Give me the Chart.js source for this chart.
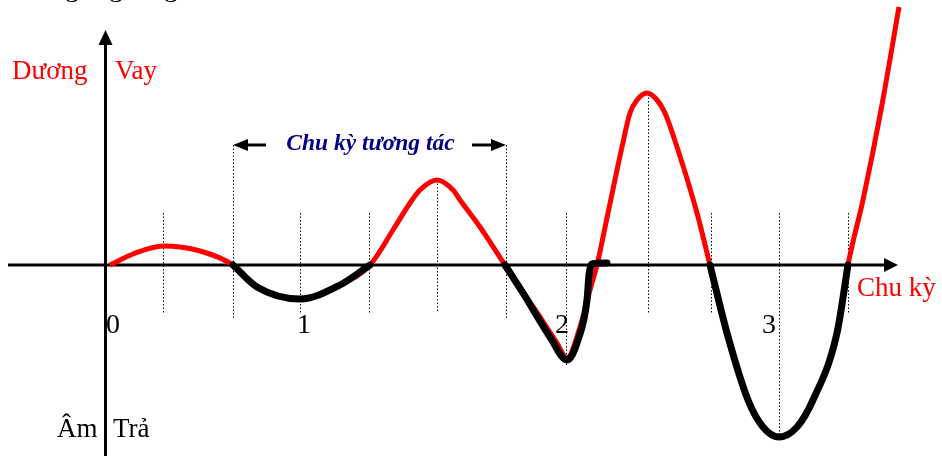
<!DOCTYPE html>
<html>
<head>
<meta charset="utf-8">
<script src="https://cdn.jsdelivr.net/npm/chart.js@4"></script>
<style>
  html, body { margin: 0; padding: 0; background: #fff; }
  canvas { display: block; }
</style>
</head>
<body>
<canvas id="chuKyChart" width="942" height="456"></canvas>
<script>
// Đường dòng tiền theo thời gian (trục hoành) - giá trị dương = vay, âm = trả
const thoiGian = [0, 2.3, 5.3, 9.0, 12.3, 14.7, 19.0, 23.0, 26.0,
  28.3, 30.0, 31.0, 32.7, 34.3, 35.0, 37.0, 39.5,
  43.0, 44.7, 45.7, 47.0, 48.0, 48.7,
  49.8, 51.2, 52.0, 52.7, 53.7, 54.7, 55.5, 56.7, 58.7, 60.0,
  61.7, 63.8, 65.3, 66.9, 68.7, 70.3, 72.7, 73.8, 75.3, 77.1, 78.9];
const dongTien = [0, 1.1, 1.9, 1.4, 0, -2.2, -3.4, -2.0, 0,
  3.5, 6.2, 7.5, 8.5, 7.5, 6.5, 3.8, 0,
  -5.2, -7.8, -9.3, -6.2, -2.5, 0,
  5.2, 11.8, 15.2, 16.5, 17.2, 16.5, 15.2, 11.8, 5.2, 0,
  -6.8, -13.5, -16.2, -17.2, -16.2, -13.5, -6.8, 0, 6.5, 15.5, 25.8];

// Các đoạn trả nợ (tô đen)
const traX1 = [12.3, 14.7, 19.0, 23.0, 26.0];
const traY1 = [0, -2.2, -3.4, -2.0, 0];
const traX2 = [39.5, 41.3, 44.0, 45.7, 46.8, 47.7, 47.9, 48.2, 49.7];
const traY2 = [0, -2.8, -7.2, -9.5, -7.5, -3.5, -1.0, 0.1, 0.2];
const traX3 = [60.0, 61.7, 63.8, 65.3, 66.9, 68.7, 70.3, 72.7, 73.8];
const traY3 = [0, -6.8, -13.5, -16.2, -17.2, -16.2, -13.5, -6.8, 0];

// Nhãn chu kỳ trên trục hoành
const nhanChuKy = ["0", "1", "2", "3"];
const viTriChuKy = [0.3, 19.4, 45.2, 65.9];

const toPoints = (xs, ys) => xs.map((x, i) => ({ x: x, y: ys[i] }));

const SERIF = "'Liberation Serif', 'Times New Roman', serif";

// Vẽ trục có mũi tên, các đường chấm và chữ chú thích
const trucPlugin = {
  id: "trucPlugin",
  beforeDraw(chart) {
    const c = chart.ctx;
    c.save();
    c.fillStyle = "#fff";
    c.fillRect(0, 0, chart.width, chart.height);
    c.restore();
  },
  beforeDatasetsDraw(chart) {
    const c = chart.ctx;
    const xs = chart.scales.x, ys = chart.scales.y;
    const X = v => xs.getPixelForValue(v);
    const Y = v => ys.getPixelForValue(v);

    // đường chấm dọc
    const guides = [
      [5.3, 5.2, -4.8], [12.3, 12.0, -5.3], [19.0, 5.2, -4.8], [25.9, 5.2, -4.8],
      [32.7, 8.5, -4.8], [39.6, 12.0, -5.3], [45.6, 5.2, -10.2], [53.8, 17.1, -4.8],
      [60.1, 5.2, -4.8], [66.9, 5.2, -17.2], [73.8, 5.2, -4.8]
    ];
    c.save();
    c.strokeStyle = "#000";
    c.lineWidth = 1;
    c.setLineDash([1.5, 2]);
    guides.forEach(g => {
      const px = Math.round(X(g[0])) + 0.5;
      c.beginPath();
      c.moveTo(px, Y(g[1]));
      c.lineTo(px, Y(g[2]));
      c.stroke();
    });
    c.restore();

    // trục hoành và trục tung
    c.save();
    c.strokeStyle = "#000";
    c.fillStyle = "#000";
    c.lineWidth = 3;
    const y0 = Y(0), x0 = X(-0.45);
    c.beginPath();
    c.moveTo(8, y0);
    c.lineTo(X(77.5), y0);
    c.stroke();
    c.beginPath();
    c.moveTo(X(78.8), y0);
    c.lineTo(X(77.4), y0 - 7);
    c.lineTo(X(77.4), y0 + 7);
    c.closePath();
    c.fill();

    c.beginPath();
    c.moveTo(x0, chart.height);
    c.lineTo(x0, Y(22.3));
    c.stroke();
    c.beginPath();
    c.moveTo(x0, Y(23.5));
    c.lineTo(x0 - 7, Y(22.0));
    c.lineTo(x0 + 7, Y(22.0));
    c.closePath();
    c.fill();
    c.restore();
  },
  afterDraw(chart) {
    const c = chart.ctx;
    const xs = chart.scales.x, ys = chart.scales.y;
    const X = v => xs.getPixelForValue(v);
    const Y = v => ys.getPixelForValue(v);

    c.save();
    c.textBaseline = "alphabetic";

    // dòng chữ phía trên (bị cắt)
    c.fillStyle = "#000";
    c.font = "28px " + SERIF;
    c.textAlign = "center";
    [-3.8, 0.6, 6.1].forEach(v => c.fillText("g", X(v), Y(26.9)));

    c.font = "27px " + SERIF;
    c.textAlign = "left";
    c.fillStyle = "#ff0000";
    c.fillText("Dương", X(-9.8), Y(18.6));
    c.fillText("Vay", X(0.5), Y(18.6));
    c.fillText("Chu kỳ", X(74.7), Y(-3.1));
    c.fillStyle = "#000";
    c.fillText("Âm", X(-5.3), Y(-17.2));
    c.fillText("Trả", X(0.3), Y(-17.2));

    c.font = "28px " + SERIF;
    c.textAlign = "center";
    nhanChuKy.forEach((t, i) => c.fillText(t, X(viTriChuKy[i]), Y(-6.8)));

    // Chu kỳ tương tác
    c.fillStyle = "#000080";
    c.font = "italic bold 23.5px " + SERIF;
    c.fillText("Chu kỳ tương tác", X(26.05), Y(11.5));

    c.strokeStyle = "#000";
    c.fillStyle = "#000";
    c.lineWidth = 3;
    const ya = Y(12.0);
    c.beginPath();
    c.moveTo(X(13.6), ya);
    c.lineTo(X(15.6), ya);
    c.moveTo(X(36.2), ya);
    c.lineTo(X(38.2), ya);
    c.stroke();
    c.beginPath();
    c.moveTo(X(12.3), ya);
    c.lineTo(X(13.8), ya - 6);
    c.lineTo(X(13.8), ya + 6);
    c.closePath();
    c.moveTo(X(39.6), ya);
    c.lineTo(X(38.1), ya - 6);
    c.lineTo(X(38.1), ya + 6);
    c.closePath();
    c.fill();
    c.restore();
  }
};

const blackLine = (xs, ys) => ({
  data: toPoints(xs, ys),
  borderColor: "#000",
  borderWidth: 7,
  borderJoinStyle: "round",
  borderCapStyle: "round",
  order: 0
});

new Chart(document.getElementById("chuKyChart"), {
  type: "scatter",
  data: {
    datasets: [
      blackLine(traX1, traY1),
      blackLine(traX2, traY2),
      blackLine(traX3, traY3),
      {
        data: toPoints(thoiGian, dongTien),
        borderColor: "#ff0000",
        borderWidth: 5,
        order: 1
      }
    ]
  },
  options: {
    responsive: false,
    animation: false,
    showLine: true,
    layout: { padding: 0 },
    elements: {
      point: { radius: 0, hoverRadius: 0 },
      line: { cubicInterpolationMode: "monotone", fill: false }
    },
    plugins: {
      legend: { display: false },
      tooltip: { enabled: false }
    },
    scales: {
      x: { type: "linear", display: false, min: -11, max: 83.2 },
      y: { type: "linear", display: false, min: -19.1, max: 26.5 }
    }
  },
  plugins: [trucPlugin]
});
</script>
</body>
</html>
